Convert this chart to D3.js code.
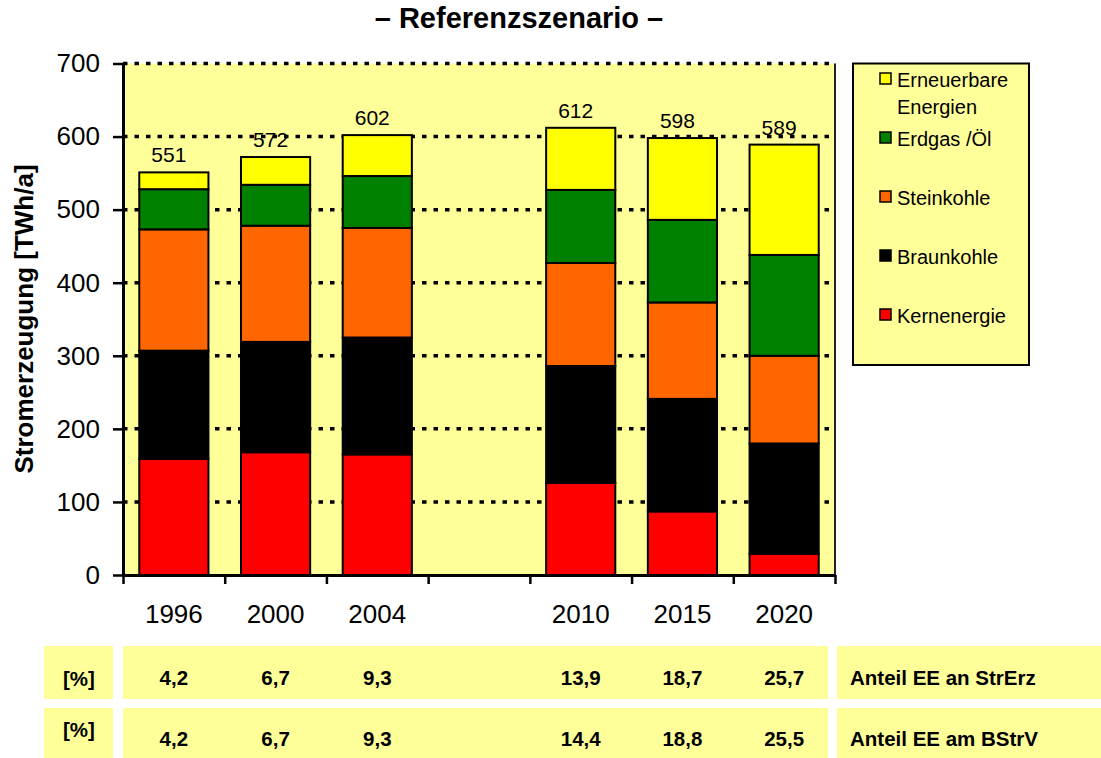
<!DOCTYPE html>
<meta charset="utf-8">
<script src="https://d3js.org/d3.v7.min.js"></script>
<style>
  body { margin: 0; background: #fff; }
  text { font-family: "Liberation Sans", Arial, sans-serif; }
</style>
<div id="chart"></div>
<script>

// data (TWh/a)
var years = ["1996", "2000", "2004", "2010", "2015", "2020"];
var slots = ["1996", "2000", "2004", "gap", "2010", "2015", "2020"];
var kernenergie = [159, 168, 165, 126, 87, 29];
var braunkohle  = [148, 151, 160, 160, 154, 151];
var steinkohle  = [166, 159, 150, 141, 132, 120];
var erdgasOel   = [55, 56, 71, 100, 113, 138];
var erneuerbare = [23, 38, 56, 85, 112, 151];
var totals      = [551, 572, 602, 612, 598, 589];
var anteilStrErz = ["4,2", "6,7", "9,3", "13,9", "18,7", "25,7"];
var anteilBStrV  = ["4,2", "6,7", "9,3", "14,4", "18,8", "25,5"];
var yTicks = [0, 100, 200, 300, 400, 500, 600, 700];

var seriesKeys = ["kern", "braun", "stein", "erdgas", "ee"];
var seriesNames = {kern: "Kernenergie", braun: "Braunkohle", stein: "Steinkohle",
                   erdgas: "Erdgas /Öl", ee: "Erneuerbare Energien"};
var colors = {kern: "#ff0000", braun: "#000000", stein: "#ff6600",
              erdgas: "#008000", ee: "#ffff00"};

var rows = years.map(function(y, i) {
  return {year: y, kern: kernenergie[i], braun: braunkohle[i], stein: steinkohle[i],
          erdgas: erdgasOel[i], ee: erneuerbare[i], total: totals[i]};
});

var W = 1101, H = 758;
var plot = {left: 123, right: 835, top: 63.5, bottom: 575};

var svg = d3.select("#chart").append("svg")
    .attr("width", W)
    .attr("height", H);

// scales
var x = d3.scaleBand()
    .domain(slots)
    .range([plot.left, plot.right])
    .paddingInner(0.32)
    .paddingOuter(0.16);
var xSlot = d3.scaleLinear().domain([0, slots.length]).range([plot.left, plot.right]);
var y = d3.scaleLinear().domain([0, 700]).range([plot.bottom, plot.top]);

// plot background
svg.append("rect")
    .attr("x", plot.left).attr("y", plot.top)
    .attr("width", plot.right - plot.left).attr("height", plot.bottom - plot.top)
    .attr("fill", "#ffff99");

// dashed grid lines
svg.append("g").selectAll("line")
  .data(yTicks.filter(function(d) { return d > 0; }))
  .enter().append("line")
    .attr("x1", plot.left).attr("x2", plot.right)
    .attr("y1", function(d) { return y(d); })
    .attr("y2", function(d) { return y(d); })
    .attr("stroke", "#000")
    .attr("stroke-width", 3.5)
    .attr("stroke-dasharray", "4.5,7");

// right border of plot area
svg.append("line")
    .attr("x1", plot.right).attr("x2", plot.right)
    .attr("y1", plot.top).attr("y2", plot.bottom)
    .attr("stroke", "#222").attr("stroke-width", 2);

// stacked bars
var stacked = d3.stack().keys(seriesKeys)(rows);
svg.append("g").selectAll("g")
  .data(stacked)
  .enter().append("g")
    .attr("fill", function(d) { return colors[d.key]; })
  .selectAll("rect")
  .data(function(d) { return d; })
  .enter().append("rect")
    .attr("x", function(d) { return x(d.data.year); })
    .attr("width", x.bandwidth())
    .attr("y", function(d) { return y(d[1]); })
    .attr("height", function(d) { return y(d[0]) - y(d[1]); })
    .attr("stroke", "#000")
    .attr("stroke-width", 2);

// total labels
svg.append("g").selectAll("text")
  .data(rows)
  .enter().append("text")
    .attr("x", function(d) { return x(d.year) + x.bandwidth() / 2 - 5; })
    .attr("y", function(d) { return y(d.total) - 10; })
    .attr("text-anchor", "middle")
    .style("font-size", "21px")
    .text(function(d) { return d.total; });

// y axis
var yAxis = svg.append("g")
    .attr("transform", "translate(" + plot.left + ",0)")
    .call(d3.axisLeft(y).tickValues(yTicks).tickSize(10).tickPadding(13).tickSizeOuter(0));
yAxis.select(".domain").attr("stroke-width", 3);
yAxis.selectAll(".tick line").attr("stroke-width", 2.5);
yAxis.selectAll("text")
    .style("font-size", "26px")
    .style("font-family", "'Liberation Sans', Arial, sans-serif")
    .attr("fill", "#000");

// x axis: tick marks at slot boundaries
var xAxis = svg.append("g")
    .attr("transform", "translate(0," + plot.bottom + ")")
    .call(d3.axisBottom(xSlot).tickValues(d3.range(slots.length + 1)).tickSize(9)
      .tickSizeOuter(0).tickFormat(""));
xAxis.select(".domain").attr("stroke-width", 3);
xAxis.selectAll(".tick line").attr("stroke-width", 2.5);

// x labels
var xLabels = svg.append("g")
    .attr("transform", "translate(0," + plot.bottom + ")")
    .call(d3.axisBottom(x).tickValues(years).tickSize(0).tickPadding(30));
xLabels.select(".domain").remove();
xLabels.selectAll("text")
    .style("font-size", "26px")
    .style("font-family", "'Liberation Sans', Arial, sans-serif")
    .attr("fill", "#000");

// title
svg.append("text")
    .attr("x", 519).attr("y", 28)
    .attr("text-anchor", "middle")
    .attr("font-weight", "bold")
    .style("font-size", "29px")
    .text("– Referenzszenario –");

// y axis title
svg.append("text")
    .attr("transform", "translate(33,319) rotate(-90)")
    .attr("text-anchor", "middle")
    .attr("font-weight", "bold")
    .style("font-size", "26px")
    .text("Stromerzeugung [TWh/a]");

// legend
var legend = svg.append("g");
legend.append("rect")
    .attr("x", 853).attr("y", 63.5)
    .attr("width", 176).attr("height", 301.5)
    .attr("fill", "#ffff99")
    .attr("stroke", "#000")
    .attr("stroke-width", 2);

var legendOrder = ["ee", "erdgas", "stein", "braun", "kern"];
var legendRows = legend.selectAll("g.item")
  .data(legendOrder)
  .enter().append("g")
    .attr("class", "item")
    .attr("transform", function(d, i) { return "translate(880," + (87 + i * 59) + ")"; });
legendRows.append("rect")
    .attr("x", 0).attr("y", -14)
    .attr("width", 11).attr("height", 11)
    .attr("fill", function(d) { return colors[d]; })
    .attr("stroke", "#000")
    .attr("stroke-width", 1.5);
legendRows.each(function(d) {
  var t = d3.select(this).append("text")
      .attr("x", 17).attr("y", 0)
      .style("font-size", "20px");
  var words = d === "ee" ? ["Erneuerbare", "Energien"] : [seriesNames[d]];
  words.forEach(function(w, j) {
    t.append("tspan").attr("x", 17).attr("dy", j === 0 ? 0 : 26.5).text(w);
  });
});

// table below the chart
var tableRows = [
  {top: 646, h: 53, unitY: 686, numY: 685, label: "Anteil EE an StrErz", values: anteilStrErz},
  {top: 708, h: 50, unitY: 737, numY: 746, label: "Anteil EE am BStrV", values: anteilBStrV}
];
var table = svg.append("g");
tableRows.forEach(function(r) {
  table.append("rect").attr("x", 44).attr("y", r.top).attr("width", 69).attr("height", r.h)
      .attr("fill", "#ffff99");
  table.append("rect").attr("x", 123).attr("y", r.top).attr("width", 705).attr("height", r.h)
      .attr("fill", "#ffff99");
  table.append("rect").attr("x", 837).attr("y", r.top).attr("width", 264).attr("height", r.h)
      .attr("fill", "#ffff99");
  table.append("text")
      .attr("x", 79).attr("y", r.unitY)
      .attr("text-anchor", "middle")
      .attr("font-weight", "bold")
      .style("font-size", "20.5px")
      .text("[%]");
  table.selectAll(null)
    .data(r.values)
    .enter().append("text")
      .attr("x", function(d, i) { return x(years[i]) + x.bandwidth() / 2; })
      .attr("y", r.numY)
      .attr("text-anchor", "middle")
      .attr("font-weight", "bold")
      .style("font-size", "20.5px")
      .text(function(d) { return d; });
  table.append("text")
      .attr("x", 850).attr("y", r.numY)
      .attr("font-weight", "bold")
      .style("font-size", "20.5px")
      .text(r.label);
});

</script>
